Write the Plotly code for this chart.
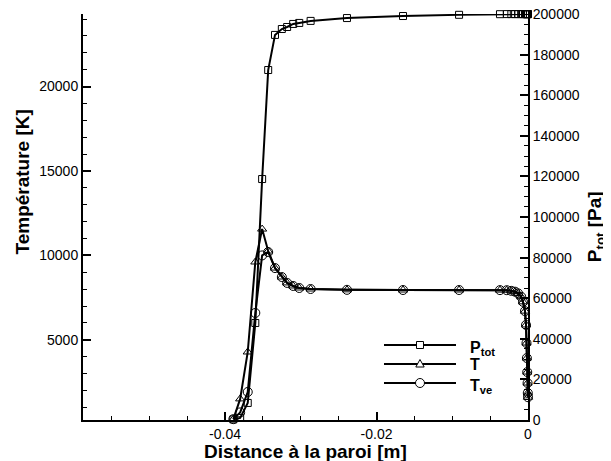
import plotly.graph_objects as go

# ---- data ----
x_m = [-0.0389, -0.0380, -0.0370, -0.0360, -0.0351, -0.0343, -0.0334, -0.0325,
       -0.0318, -0.0310, -0.0302, -0.0287, -0.0239, -0.0165, -0.0091, -0.0037,
       -0.0028, -0.0022, -0.0017, -0.0013, -0.0009, -0.00066, -0.0004, -0.00026,
       -0.0002, -0.00015, -0.0001, -0.00006, -0.00003, 0.0]

ptot_pa = [300, 1000, 8400, 47800, 118700, 172400, 189700, 192600,
           193600, 195100, 195600, 196600, 198000, 199000, 199600, 199900,
           199950, 199950, 199950, 199950, 199950, 199950, 199950, 199950,
           199950, 199950, 199950, 199950, 199950, 199950]

t_k = [300, 1500, 4280, 9610, 11560, 10260, 9250, 8720,
       8370, 8190, 8070, 8010, 7960, 7950, 7950, 7945,
       7940, 7900, 7850, 7750, 7550, 7250, 6700, 5880,
       4810, 3920, 3090, 2440, 1850, 1600]

tve_k = [300, 700, 1910, 6590, 10000, 10200, 9250, 8720,
         8370, 8190, 8070, 8010, 7960, 7950, 7950, 7945,
         7940, 7900, 7850, 7750, 7550, 7250, 6700, 5880,
         4810, 3920, 3090, 2440, 1850, 1600]

x_tickvals = [-0.04, -0.02, 0]
x_ticktext = ["-0.04", "-0.02", "0"]
t_tickvals = [5000, 10000, 15000, 20000]
t_ticktext = ["5000", "10000", "15000", "20000"]
p_tickvals = [0, 20000, 40000, 60000, 80000, 100000, 120000, 140000, 160000, 180000, 200000]
p_ticktext = ["0", "20000", "40000", "60000", "80000", "100000", "120000",
              "140000", "160000", "180000", "200000"]

series_names = ["P<sub>tot</sub>", "T", "T<sub>ve</sub>"]
series_symbols = ["square-open", "triangle-up-open", "circle-open"]
series_sizes = [7, 8, 9]

FONT = "Arial, 'Liberation Sans', sans-serif"

fig = go.Figure()
series = [(ptot_pa, "y2"), (t_k, "y"), (tve_k, "y")]
for (yv, ax), nm, sym, sz in zip(series, series_names, series_symbols, series_sizes):
    fig.add_trace(go.Scatter(
        x=x_m, y=yv, yaxis=ax, name=nm, mode="lines+markers", showlegend=False,
        line=dict(color="black", width=2),
        marker=dict(symbol=sym, size=sz, color="black", line=dict(width=1, color="black")),
        cliponaxis=False))

axis_common = dict(showline=True, linewidth=2, linecolor="black", showgrid=False,
                   zeroline=False, ticks="inside", ticklen=8, tickwidth=1.5, automargin=False,
                   ticklabeloverflow="allow",
                   tickcolor="black", tickfont=dict(size=14, color="black", family=FONT))

# page body has an 8px default margin: figure is sized to fit the 611x461 window
fig.update_layout(
    width=603, height=453,
    margin=dict(l=75, r=83, t=6, b=41),
    paper_bgcolor="white", plot_bgcolor="white",
    font=dict(family=FONT, color="black"),
    xaxis=dict(range=[-0.05875, 0], tickmode="array", tickvals=x_tickvals, ticktext=x_ticktext,
               minor=dict(tickmode="linear", tick0=0, dtick=0.005, ticks="inside", ticklen=4,
                          tickwidth=1, tickcolor="black"),
               **axis_common),
    yaxis=dict(range=[250, 24300], tickmode="array", tickvals=t_tickvals, ticktext=t_ticktext,
               minor=dict(tickmode="linear", tick0=0, dtick=1000, ticks="inside", ticklen=4,
                          tickwidth=1, tickcolor="black"),
               **axis_common),
    yaxis2=dict(range=[0, 200000], overlaying="y", side="right", tickmode="array",
                tickvals=p_tickvals, ticktext=p_ticktext,
                minor=dict(tickmode="linear", tick0=0, dtick=5000, ticks="inside", ticklen=4,
                           tickwidth=1, tickcolor="black"),
                **axis_common),
    showlegend=False,
)

title_font = dict(size=19, weight="bold", family=FONT, color="black")
fig.add_annotation(text="Distance à la paroi [m]", xref="paper", yref="paper",
                   x=0.5, y=-0.0775, xanchor="center", yanchor="middle",
                   showarrow=False, font=title_font)
fig.add_annotation(text="Température [K]", xref="paper", yref="paper",
                   x=-0.137, y=0.585, xanchor="center", yanchor="middle", textangle=-90,
                   showarrow=False, font=title_font)
fig.add_annotation(text="P<sub>tot</sub> [Pa]", xref="paper", yref="paper",
                   x=1.153, y=0.475, xanchor="center", yanchor="middle", textangle=-90,
                   showarrow=False, font=title_font)

# ---- custom legend (long sample lines like the reference) ----
leg_y = [0.1847, 0.1379, 0.0911]
leg_x0, leg_x1, leg_xm, leg_xt = 0.6764, 0.8382, 0.7573, 0.8652
for nm, sym, yy in zip(series_names, series_symbols, leg_y):
    fig.add_shape(type="line", xref="paper", yref="paper", x0=leg_x0, x1=leg_x1, y0=yy, y1=yy,
                  line=dict(color="black", width=2))
    marker_style = dict(xref="paper", yref="paper", xsizemode="pixel", ysizemode="pixel",
                        xanchor=leg_xm, yanchor=yy, fillcolor="white",
                        line=dict(color="black", width=1))
    if sym == "square-open":
        fig.add_shape(type="rect", x0=-3.5, x1=3.5, y0=-3.5, y1=3.5, **marker_style)
    elif sym == "circle-open":
        fig.add_shape(type="circle", x0=-4.5, x1=4.5, y0=-4.5, y1=4.5, **marker_style)
    else:
        fig.add_shape(type="path", path="M0,4.5 L4.2,-3 L-4.2,-3 Z", **marker_style)
    fig.add_annotation(text=nm, xref="paper", yref="paper", x=leg_xt, y=yy,
                       xanchor="left", yanchor="middle", yshift=(-3 if "sub" in nm else 0),
                       showarrow=False, font=dict(size=16, weight="bold", family=FONT, color="black"))

fig.write_html("out.html")
